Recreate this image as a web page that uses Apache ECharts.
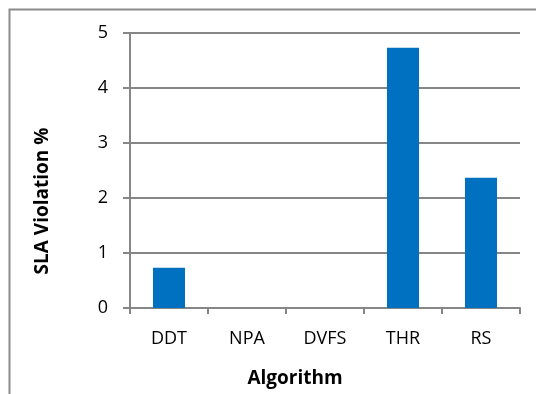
<!DOCTYPE html>
<html>
<head>
<meta charset="utf-8">
<script src="https://cdn.jsdelivr.net/npm/echarts@6/dist/echarts.min.js"></script>
<style>
  html, body { margin: 0; padding: 0; background: #fff; }
  #chart { width: 536px; height: 394px; }
</style>
</head>
<body>
<div id="chart"></div>
<script>
// SLA violation per placement algorithm
const categories = ['DDT', 'NPA', 'DVFS', 'THR', 'RS'];
const slaViolation = [0.73, 0, 0, 4.73, 2.37];
const yTicks = { min: 0, max: 5, interval: 1 };
const xTitle = 'Algorithm';
const yTitle = 'SLA Violation %';

const font = '"Open Sans", "Noto Sans", sans-serif';
const gridColor = '#868686';

const chart = echarts.init(document.getElementById('chart'), null, { renderer: 'canvas' });
chart.setOption({
  animation: false,
  backgroundColor: '#ffffff',
  grid: { left: 130, right: 16, top: 33, bottom: 86 },
  xAxis: {
    type: 'category',
    data: categories,
    axisLine: { show: true, lineStyle: { color: gridColor, width: 2 } },
    axisTick: { show: true, length: 6, alignWithLabel: false, lineStyle: { color: gridColor, width: 2 } },
    axisLabel: { color: '#000', fontFamily: font, fontSize: 18, margin: 22 },
    splitLine: { show: false }
  },
  yAxis: {
    type: 'value',
    min: yTicks.min,
    max: yTicks.max,
    interval: yTicks.interval,
    axisLine: { show: true, lineStyle: { color: gridColor, width: 2 } },
    axisTick: { show: true, length: 7, lineStyle: { color: gridColor, width: 2 } },
    axisLabel: { color: '#000', fontFamily: font, fontSize: 18, margin: 22 },
    splitLine: { show: true, lineStyle: { color: gridColor, width: 2 } }
  },
  series: [{
    type: 'bar',
    data: slaViolation,
    barWidth: '41%',
    itemStyle: { color: '#0070c0' }
  }],
  graphic: [
    {
      type: 'rect',
      left: 7, top: 7,
      shape: { width: 560, height: 420 },
      style: { fill: 'none', stroke: '#8c8c8c', lineWidth: 2 },
      silent: true, z: -1
    },
    {
      type: 'text',
      x: 43, y: 201,
      rotation: Math.PI / 2,
      style: {
        text: yTitle, fontFamily: font, fontWeight: 'bold', fontSize: 19,
        fill: '#000', textAlign: 'center', textVerticalAlign: 'middle'
      }
    },
    {
      type: 'text',
      x: 295, y: 379,
      style: {
        text: xTitle, fontFamily: font, fontWeight: 'bold', fontSize: 19,
        fill: '#000', textAlign: 'center', textVerticalAlign: 'middle'
      }
    }
  ]
});
</script>
</body>
</html>
